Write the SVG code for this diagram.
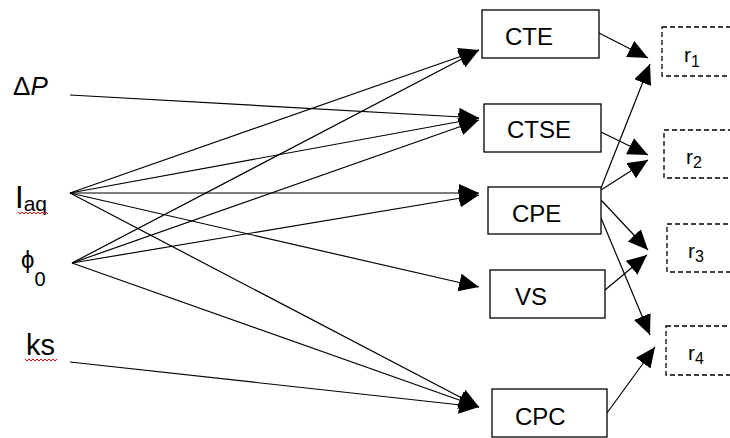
<svg xmlns="http://www.w3.org/2000/svg" width="730" height="438" viewBox="0 0 730 438">
<style>
text { font-family: "Liberation Sans", Arial, sans-serif; fill: #000; }
.box { fill: #fff; stroke: #000; stroke-width: 1.3; }
.rbox { fill: none; stroke: #000; stroke-width: 1.3; stroke-dasharray: 5 3; }
.lbl { font-size: 24px; }
.r { font-size: 21px; }
.sub { font-size: 16px; }
.edge { fill: none; stroke: #000; stroke-width: 1.2; marker-end: url(#ah); }
.squig { fill: none; stroke: #e00; stroke-width: 1; }
</style>
<defs>
<marker id="ah" markerUnits="userSpaceOnUse" markerWidth="21" markerHeight="19" refX="20" refY="9" orient="auto">
<path d="M0,0 L20,9 L0,18 Z" fill="#000"/>
</marker>
</defs>
<g id="connectors">
<line class="edge" x1="70" y1="95" x2="479" y2="118"/>
<line class="edge" x1="70" y1="193" x2="479" y2="50"/>
<line class="edge" x1="70" y1="193" x2="479" y2="118"/>
<line class="edge" x1="70" y1="193" x2="479" y2="193"/>
<line class="edge" x1="70" y1="193" x2="479" y2="287"/>
<line class="edge" x1="70" y1="193" x2="479" y2="407"/>
<line class="edge" x1="72" y1="263" x2="479" y2="50"/>
<line class="edge" x1="72" y1="263" x2="479" y2="120"/>
<line class="edge" x1="72" y1="263" x2="479" y2="195"/>
<line class="edge" x1="72" y1="263" x2="479" y2="407"/>
<line class="edge" x1="70" y1="362" x2="479" y2="407"/>
<line class="edge" x1="599" y1="33" x2="648" y2="58"/>
<line class="edge" x1="601" y1="188" x2="650" y2="64"/>
<line class="edge" x1="601" y1="132" x2="648" y2="155"/>
<line class="edge" x1="601" y1="190" x2="648" y2="160"/>
<line class="edge" x1="601" y1="200" x2="648" y2="250"/>
<line class="edge" x1="605" y1="290" x2="647" y2="255"/>
<line class="edge" x1="601" y1="218" x2="650" y2="335"/>
<line class="edge" x1="607" y1="413" x2="655" y2="347"/>
</g>
<g id="dP">
<text x="13" y="95" font-size="26">Δ<tspan font-style="italic">P</tspan></text>
</g>
<g id="Iaq">
<text x="15" y="208" font-size="31">I<tspan font-size="21" dy="3">aq</tspan></text>
<polyline class="squig" points="18,212 20,214 22,212 24,214 26,212 28,214 30,212 32,214 34,212 36,214 38,212 40,214 42,212 44,214 46,212 48,214"/>
</g>
<g id="phi0">
<text x="21" y="268" font-size="24" font-family="DejaVu Sans, sans-serif">ϕ<tspan font-family="Liberation Sans, sans-serif" font-size="20" dy="18">0</tspan></text>
</g>
<g id="ks">
<text x="26" y="355" font-size="29">ks</text>
<polyline class="squig" points="25,359 27,361 29,359 31,361 33,359 35,361 37,359 39,361 41,359 43,361 45,359 47,361 49,359 51,361 53,359 55,361 57,359"/>
</g>
<g id="CTE">
<rect class="box" x="482" y="10" width="117" height="48"/>
<text class="lbl" x="505" y="45">CTE</text>
</g>
<g id="CTSE">
<rect class="box" x="484" y="104" width="117" height="48"/>
<text class="lbl" x="507" y="138">CTSE</text>
</g>
<g id="CPE">
<rect class="box" x="488" y="187" width="113" height="47"/>
<text class="lbl" x="512" y="222">CPE</text>
</g>
<g id="VS">
<rect class="box" x="490" y="270" width="115" height="48"/>
<text class="lbl" x="515" y="305">VS</text>
</g>
<g id="CPC">
<rect class="box" x="492" y="389" width="115" height="48"/>
<text class="lbl" x="515" y="425">CPC</text>
</g>
<g id="r1">
<rect class="rbox" x="662" y="27" width="80" height="49"/>
<text class="r" x="684" y="62">r<tspan class="sub" dy="5">1</tspan></text>
</g>
<g id="r2">
<rect class="rbox" x="664" y="130" width="80" height="48"/>
<text class="r" x="686" y="164">r<tspan class="sub" dy="4">2</tspan></text>
</g>
<g id="r3">
<rect class="rbox" x="667" y="224" width="80" height="48"/>
<text class="r" x="688" y="258">r<tspan class="sub" dy="4">3</tspan></text>
</g>
<g id="r4">
<rect class="rbox" x="666" y="326" width="80" height="49"/>
<text class="r" x="688" y="360">r<tspan class="sub" dy="4">4</tspan></text>
</g>
</svg>
